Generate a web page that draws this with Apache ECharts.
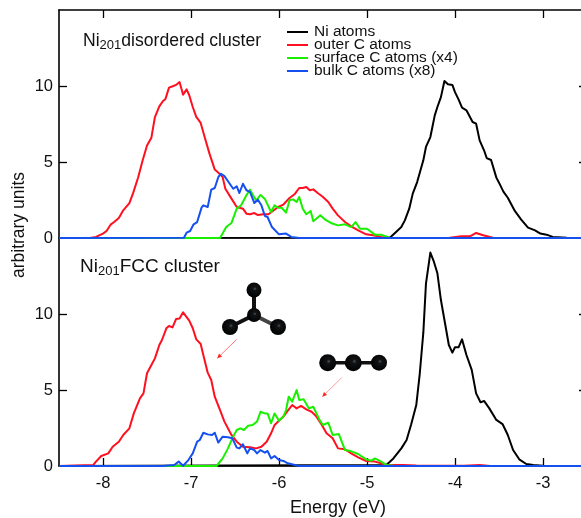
<!DOCTYPE html>
<html><head><meta charset="utf-8">
<script src="https://cdn.jsdelivr.net/npm/echarts@6/dist/echarts.min.js"></script>
<style>html,body{margin:0;padding:0;background:#fff;overflow:hidden}#c{width:581px;height:518px}</style>
</head><body><div id="c"></div>
<script>
const xTicks = [-8,-7,-6,-5,-4,-3];
const yTicks = [0,5,10];
const seriesNames = ['Ni atoms','outer C atoms','surface C atoms (x4)','bulk C atoms (x8)'];
const panelTitles = ['disordered cluster','FCC cluster'];

const topBlack = [[-8.5,0],[-4.74,0.02],[-4.67,0.4],[-4.61,0.72],[-4.57,1.16],[-4.52,1.93],[-4.48,2.92],[-4.43,3.68],[-4.36,5.11],[-4.33,5.99],[-4.28,6.64],[-4.23,8.07],[-4.2,8.62],[-4.16,9.27],[-4.12,10.33],[-4.08,10.11],[-4.03,10.07],[-4.0,9.6],[-3.96,9.12],[-3.92,8.57],[-3.87,8.4],[-3.83,7.96],[-3.8,7.63],[-3.76,7.52],[-3.72,6.42],[-3.67,5.77],[-3.64,5.26],[-3.59,5.13],[-3.53,3.97],[-3.5,3.64],[-3.45,3.05],[-3.4,2.65],[-3.32,1.78],[-3.25,1.23],[-3.17,0.68],[-3.09,0.5],[-3.03,0.29],[-2.96,0.22],[-2.89,0.07],[-2.73,0.02],[-2.5,0]];
const topRed = [[-8.5,0],[-8.15,0],[-8.08,0.07],[-8.0,0.29],[-7.96,0.46],[-7.91,0.9],[-7.87,1.07],[-7.82,1.32],[-7.77,1.82],[-7.70,2.30],[-7.66,2.92],[-7.60,4.0],[-7.55,5.1],[-7.50,6.09],[-7.45,6.6],[-7.41,7.96],[-7.36,8.66],[-7.32,9.0],[-7.29,9.15],[-7.25,9.89],[-7.20,10.0],[-7.17,10.07],[-7.13,10.26],[-7.09,9.43],[-7.05,9.78],[-7.02,9.39],[-6.98,8.62],[-6.94,7.97],[-6.89,7.57],[-6.84,6.54],[-6.79,5.55],[-6.73,4.5],[-6.67,4.2],[-6.64,4.0],[-6.61,3.24],[-6.54,2.59],[-6.48,2.04],[-6.41,1.93],[-6.37,1.6],[-6.33,1.56],[-6.28,1.64],[-6.24,1.51],[-6.18,1.56],[-6.12,1.56],[-6.07,1.78],[-6.01,2.04],[-5.95,2.2],[-5.88,2.63],[-5.82,2.9],[-5.77,3.29],[-5.73,3.29],[-5.69,3.36],[-5.65,3.14],[-5.61,3.2],[-5.56,2.96],[-5.5,2.7],[-5.44,2.37],[-5.39,1.93],[-5.33,1.49],[-5.25,1.05],[-5.18,0.77],[-5.1,0.5],[-5.01,0.24],[-4.93,0.18],[-4.84,0.07],[-4.74,0.02],[-4.63,0],[-4.06,0.02],[-3.93,0.11],[-3.83,0.11],[-3.76,0.33],[-3.68,0.18],[-3.57,0.02],[-3.49,0],[-2.5,0]];
const topGreen = [[-8.5,0],[-6.67,0],[-6.60,0.72],[-6.54,0.99],[-6.48,1.93],[-6.43,2.15],[-6.37,2.81],[-6.33,3.18],[-6.26,2.46],[-6.21,2.83],[-6.16,2.57],[-6.09,1.71],[-6.05,2.15],[-6.01,1.99],[-5.97,1.99],[-5.92,1.67],[-5.88,2.48],[-5.84,2.54],[-5.80,2.37],[-5.77,2.7],[-5.73,1.93],[-5.69,1.56],[-5.64,1.78],[-5.61,1.1],[-5.53,1.49],[-5.48,1.23],[-5.41,0.99],[-5.33,0.83],[-5.25,0.9],[-5.18,0.72],[-5.13,1.05],[-5.08,0.61],[-5.0,0.61],[-4.91,0.22],[-4.84,0.22],[-4.74,0.02],[-4.66,0],[-2.5,0]];
const topBlue = [[-8.5,0],[-7.08,0.02],[-7.05,0.35],[-7.01,0.46],[-6.97,0.9],[-6.93,1.05],[-6.88,2.0],[-6.86,2.15],[-6.81,2.04],[-6.77,3.18],[-6.73,3.29],[-6.69,4.0],[-6.66,4.23],[-6.62,4.07],[-6.56,3.57],[-6.52,3.24],[-6.48,3.4],[-6.45,2.96],[-6.41,3.57],[-6.37,3.14],[-6.33,3.03],[-6.28,2.3],[-6.24,2.52],[-6.2,2.15],[-6.16,1.45],[-6.13,1.38],[-6.08,0.72],[-6.0,0.24],[-5.92,0.29],[-5.86,0.07],[-5.77,0],[-2.5,0]];

const botBlack = [[-8.5,0],[-4.78,0.07],[-4.7,0.5],[-4.61,1.16],[-4.55,1.71],[-4.5,2.7],[-4.44,4.01],[-4.4,6.1],[-4.36,8.77],[-4.33,12.0],[-4.28,14.04],[-4.24,13.44],[-4.2,12.68],[-4.16,10.92],[-4.1,8.95],[-4.07,7.96],[-4.03,7.46],[-4.0,7.81],[-3.96,7.81],[-3.92,8.33],[-3.87,7.3],[-3.81,6.32],[-3.76,4.78],[-3.71,4.19],[-3.67,4.28],[-3.61,3.79],[-3.53,3.03],[-3.46,2.76],[-3.4,2.04],[-3.34,1.05],[-3.27,0.44],[-3.19,0.13],[-3.11,0.07],[-3.0,0.02],[-2.5,0]];
const botRed = [[-8.5,0],[-8.11,0.07],[-8.08,0.29],[-8.02,0.66],[-7.94,0.83],[-7.89,1.27],[-7.82,1.6],[-7.77,2.04],[-7.7,2.48],[-7.65,3.46],[-7.58,4.45],[-7.54,4.78],[-7.5,6.1],[-7.45,6.64],[-7.41,7.08],[-7.36,7.96],[-7.33,8.29],[-7.28,9.06],[-7.25,9.21],[-7.21,9.12],[-7.17,9.67],[-7.13,9.71],[-7.09,10.11],[-7.02,9.56],[-6.98,9.06],[-6.94,8.33],[-6.89,8.03],[-6.86,7.3],[-6.81,6.14],[-6.77,5.66],[-6.73,4.56],[-6.67,3.68],[-6.62,2.92],[-6.54,2.04],[-6.48,1.6],[-6.41,1.27],[-6.33,1.23],[-6.26,1.16],[-6.2,1.27],[-6.14,1.6],[-6.09,2.15],[-6.05,2.7],[-6.0,2.98],[-5.95,3.25],[-5.9,3.64],[-5.85,4.01],[-5.8,3.79],[-5.75,3.95],[-5.69,3.73],[-5.63,3.57],[-5.58,3.29],[-5.52,2.76],[-5.46,2.15],[-5.39,1.82],[-5.33,1.16],[-5.25,1.1],[-5.18,0.83],[-5.1,0.57],[-5.01,0.33],[-4.91,0.29],[-4.84,0.18],[-4.78,0.07],[-4.67,0.07],[-4.59,0.07],[-4.44,0.04],[-3.9,0.02],[-3.72,0.07],[-3.6,0],[-2.5,0]];
const botGreen = [[-8.5,0],[-6.71,0],[-6.64,0.5],[-6.58,1.16],[-6.53,1.82],[-6.48,2.37],[-6.44,2.48],[-6.4,2.37],[-6.35,2.65],[-6.3,2.7],[-6.25,2.92],[-6.21,3.57],[-6.16,3.46],[-6.13,3.46],[-6.09,2.81],[-6.05,3.46],[-6.0,2.98],[-5.95,3.25],[-5.92,3.68],[-5.89,4.56],[-5.85,4.23],[-5.8,5.0],[-5.77,4.34],[-5.72,4.39],[-5.66,3.79],[-5.61,3.9],[-5.54,3.03],[-5.5,2.7],[-5.44,2.85],[-5.39,2.04],[-5.32,2.1],[-5.25,1.05],[-5.2,1.01],[-5.1,0.79],[-5.01,0.44],[-4.95,0.35],[-4.91,0.5],[-4.84,0.29],[-4.78,0.07],[-4.7,0.02],[-2.5,0]];
const botBlue = [[-8.5,0],[-7.32,0],[-7.19,0.07],[-7.14,0.29],[-7.09,0.02],[-7.03,0.39],[-6.98,0.83],[-6.93,1.6],[-6.9,1.71],[-6.86,2.19],[-6.81,2.08],[-6.76,2.04],[-6.73,2.19],[-6.69,1.54],[-6.64,1.93],[-6.58,1.89],[-6.53,1.82],[-6.48,1.21],[-6.45,1.16],[-6.41,1.43],[-6.36,0.83],[-6.33,1.16],[-6.28,1.05],[-6.25,0.83],[-6.21,1.05],[-6.16,0.88],[-6.13,0.99],[-6.09,0.5],[-6.05,0.66],[-6.0,0.39],[-5.95,0.33],[-5.9,0.18],[-5.82,0.07],[-5.77,0],[-2.5,0]];

const colors = ['#000000','#ff1020','#18f000','#1450f0'];
const FONT = 'Liberation Sans';
const chart = echarts.init(document.getElementById('c'), null, {renderer:'canvas'});

function line(name, data, idx, color){
  return {type:'line', name, data, xAxisIndex:idx, yAxisIndex:idx, symbol:'none', smooth:false, clip:false,
          lineStyle:{color, width:2, join:'round'}, itemStyle:{color}, animation:false, silent:true};
}
const panels = [[topBlack,topRed,topGreen,topBlue],[botBlack,botRed,botGreen,botBlue]];
const series = [];
panels.forEach((p,i)=>p.forEach((d,j)=>series.push(line(seriesNames[j], d, i, colors[j]))));

const axisLine = {show:true, onZero:false, lineStyle:{color:'#000', width:1.6}};
function xAxis(gridIndex, position, labels){
  return {type:'value', gridIndex, position, min:-8.5, max:-2.5, splitLine:{show:false}, axisLine,
    axisTick:{show:true, inside:true, length:8, customValues:xTicks, lineStyle:{color:'#000', width:1.3}},
    axisLabel:{show:labels, customValues:xTicks, margin:9, color:'#111', fontFamily:FONT, fontSize:16.5}};
}
function yAxis(gridIndex, position, labels){
  return {type:'value', gridIndex, position, min:0, max:15, interval:5, splitLine:{show:false},
    axisLine: position==='left' ? axisLine : {show:false},
    axisTick:{show:true, inside:true, length:8, customValues:[5,10], lineStyle:{color:'#000', width:1.3}},
    axisLabel:{show:labels, customValues:yTicks, margin:6, color:'#111', fontFamily:FONT, fontSize:16.5}};
}
function atom(x,y,r){
  return {type:'circle', shape:{cx:x,cy:y,r}, z:20, style:{fill:{type:'radial',x:0.56,y:0.42,r:0.6,
    colorStops:[{offset:0,color:'#4a565c'},{offset:0.2,color:'#111315'},{offset:1,color:'#000'}]}}};
}
function bond(x1,y1,x2,y2,w,c){
  return {type:'line', shape:{x1,y1,x2,y2}, z:19, style:{stroke:c||'#111', lineWidth:w}};
}
function arrow(x1,y1,x2,y2,c){
  const a=Math.atan2(y2-y1,x2-x1), h=5, s=0.45;
  return [{type:'line', shape:{x1,y1,x2,y2}, z:18, style:{stroke:c, lineWidth:0.8}},
    {type:'polygon', z:18, shape:{points:[[x2,y2],[x2-h*Math.cos(a-s),y2-h*Math.sin(a-s)],[x2-h*Math.cos(a+s),y2-h*Math.sin(a+s)]]}, style:{fill:'#f22'}}];
}
function panelLabel(x,y,t,size){
  return {type:'text', x, y, z:20, style:{text:'{a|Ni}{s|201}{a|'+t+'}', fontFamily:FONT, fill:'#111',
    rich:{a:{fontFamily:FONT,fontSize:size,fill:'#111',lineHeight:20,verticalAlign:'middle'},
          s:{fontFamily:FONT,fontSize:13,fill:'#111',lineHeight:20,padding:[9,0,0,0],verticalAlign:'middle'}}}};
}
chart.setOption({
  animation:false, backgroundColor:'#fff',
  grid:[{left:59,top:10,width:528,height:228,outerBoundsMode:'none'},{left:59,top:238,width:528,height:228,outerBoundsMode:'none'}],
  xAxis:[xAxis(0,'top',false), xAxis(1,'bottom',true)],
  yAxis:[yAxis(0,'left',true), yAxis(1,'left',true), yAxis(0,'right',false), yAxis(1,'right',false)],
  legend:{show:true, orient:'vertical', left:287, top:24, icon:'rect', itemWidth:21, itemHeight:2, itemGap:-3, padding:0, selectedMode:false,
    data:seriesNames, textStyle:{fontFamily:FONT, fontSize:15.5, color:'#111', lineHeight:16, padding:[0,0,0,1]}},
  series,
  graphic:[
    panelLabel(83,31,panelTitles[0],17.6), panelLabel(80,257,panelTitles[1],19),
    {type:'text', x:338, y:508, z:20, style:{text:'Energy (eV)', fontFamily:FONT, fontSize:18, fill:'#111', align:'center', verticalAlign:'middle'}},
    {type:'text', x:19, y:225, rotation:Math.PI/2, z:20, style:{text:'arbitrary units', fontFamily:FONT, fontSize:17.5, fill:'#111', align:'center', verticalAlign:'middle'}},
    bond(254,315,254,290,4), bond(254,315,230,327,4), bond(254,315,278,327,4,'#444'),
    atom(254,290,7.5), atom(254,315,7), atom(230,327,8), atom(278,327,8),
    bond(328,362.7,379,362.7,3.5),
    atom(327.7,362.7,8.5), atom(353.3,362.7,8.5), atom(379,362.7,8),
    ...arrow(236.7,339.3,217.3,358.3,'#f55'), ...arrow(341.7,377.7,322.3,396.7,'#f88')
  ]
});
</script></body></html>
